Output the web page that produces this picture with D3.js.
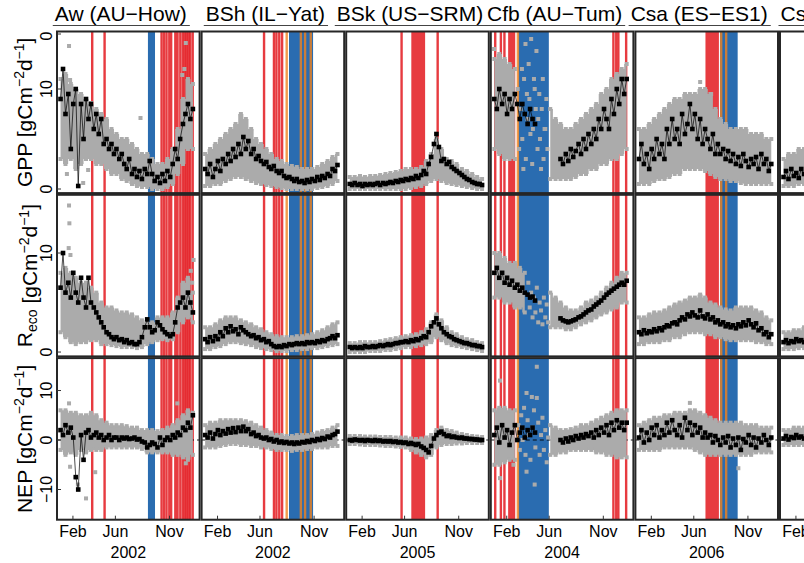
<!DOCTYPE html>
<html>
<head>
<meta charset="utf-8">
<script src="https://cdn.jsdelivr.net/npm/d3@7"></script>
<style>
  body { margin: 0; background: #fff; }
  svg { display: block; font-family: "Liberation Sans", Arial, Helvetica, sans-serif; }
</style>
</head>
<body>
<svg id="chart" width="804" height="563"></svg>
<script>
// one column per site, year shown under each column
var sites = ["Aw (AU\u2212How)", "BSh (IL\u2212Yat)", "BSk (US\u2212SRM)", "Cfb (AU\u2212Tum)", "Csa (ES\u2212ES1)", "Csb (IT\u2212Noe)"];
var years = ["2002", "2002", "2005", "2004", "2006", "2003"];

var monthTicks = [31, 151, 304];
var monthLabels = ["Feb", "Jun", "Nov"];

// day of year of the black (weekly) and gray (fortnightly) values
var weekDays = [-4, 3, 10, 18, 25, 32, 39, 46, 54, 61, 68, 75, 82, 90, 97, 104, 111, 118, 126, 133, 140, 147, 154, 162,
  169, 176, 183, 190, 198, 205, 212, 219, 226, 234, 241, 248, 255, 262, 270, 277, 284, 291, 298, 306, 313, 320,
  327, 334, 342, 349, 356, 363, 370];
var fortDays = [-4, 10, 25, 39, 54, 68, 82, 97, 111, 126, 140, 154, 169, 183, 198, 212, 226, 241, 255, 270, 284, 298,
  313, 327, 342, 356, 370];

// GPP
var gppBlack = [
  [9, 12, 7.5, 9.5, 4, 8.5, 10, 0.3, 8.5, 5, 9, 7, 8.5, 6, 7.5, 5.5, 7, 4.5, 5, 4, 4.5, 3.5, 4, 3, 3.5, 2.5, 2, 3, 1.5, 2, 1.2, 1.8, 1, 2, 1.5, 2.8, 1.5, 0.8, 1.2, 0.6, 1.5, 0.8, 1.8, 1.2, 2.5, 4, 3, 5, 6.5, 7.5, 8.5, 7, 8],
  [2, 1.5, 2.5, 1.2, 2, 2.8, 1.8, 3, 2.5, 3.5, 2.8, 4, 3.2, 4.5, 3.5, 5.2, 4, 4.8, 3.5, 4, 3, 3.3, 2.8, 2.5, 2.7, 2.2, 2, 2.3, 1.8, 1.6, 1.8, 1.3, 1.1, 1.2, 1, 0.8, 1, 0.7, 0.8, 0.6, 0.9, 0.7, 1, 0.8, 1.2, 0.9, 1.3, 1.1, 1.5, 1.3, 2, 1.8, 2.4],
  [0.5, 0.4, 0.6, 0.4, 0.5, 0.3, 0.5, 0.4, 0.5, 0.4, 0.5, 0.6, 0.4, 0.6, 0.5, 0.6, 0.7, 0.6, 0.8, 0.7, 0.9, 0.8, 1, 0.9, 1.1, 1, 1.3, 1.1, 1.4, 1.8, 1.5, 2.5, 3.2, 4.5, 5.5, 4.2, 2.8, 3, 2.5, 2.7, 2.2, 2, 1.8, 1.6, 1.4, 1.2, 1, 0.9, 0.7, 0.6, 0.5, 0.5, 0.4],
  [9, 8, 10, 8.5, 9.5, 7.5, 9, 8, 9.5, 8.5, 7, 8.5, 7.5, 6.5, 8, 7, 6.5, null, null, null, null, null, null, null, null, null, 3, 2.5, 3.5, 2.8, 4, 3.2, 3.8, 4.5, 3.5, 5, 4, 5.5, 4.5, 6, 5, 7, 6, 8, 7, 6, 9, 7.5, 10, 8.5, 11, 9.5, 11],
  [3, 4.5, 2.5, 3.5, 2, 4, 3, 5, 3.5, 4.5, 3, 6, 4.5, 7, 5, 6, 4.5, 7.5, 5.5, 6.5, 8.5, 6, 7.5, 5, 7, 4.5, 6, 5, 4, 5.5, 3.5, 4.5, 3.5, 4, 3, 3.8, 2.8, 3.5, 2.5, 3.2, 2.3, 3.5, 2.8, 2.2, 3, 2.5, 3.2, 2, 3.5, 2.5, 3, 1.8, 2.5],
  [1.2, 1.8, 1, 2, 1.3, 1.6, 1.1, 2, 1.5, 1.8]
];
var gppHi = [
  [11, 11.5, 10.5, 10, 9.5, 9, 8.5, 8, 7.5, 7, 6, 5.5, 5, 5, 4.5, 4, 3.5, 3.5, 3, 2.5, 2.5, 3, 4, 6, 9, 11, 10.5],
  [3.5, 4, 4.5, 5, 5.5, 6, 6.5, 7.5, 7, 6, 5, 4.5, 4, 3.5, 3, 2.8, 2.5, 2.3, 2.2, 2, 2, 2, 2.2, 2.5, 2.8, 3.2, 3.5],
  [1.2, 1.2, 1.3, 1.2, 1.3, 1.3, 1.4, 1.5, 1.6, 1.7, 1.8, 2, 2, 2, 2.2, 2.8, 3.5, 5, 4, 3, 2.8, 2.5, 2, 1.8, 1.5, 1.2, 1],
  [13, 13.5, 13, 12.5, 12, null, null, null, null, null, null, 8, 7, 6.5, 6, 6, 6.5, 7, 7.5, 8, 8.5, 9.5, 10, 11, 11.5, 12, 12.5],
  [6, 6, 6.5, 7, 7.5, 8, 8.5, 9, 9, 9.5, 9.5, 9.5, 10, 10, 9.5, 8, 7, 6.5, 6, 6, 6, 6, 5.5, 5.5, 5.5, 5, 5],
  [3, 3.5, 3.5, 4, 4]
];
var gppLo = [
  [3, 2.5, 3, 2, 2.5, 3, 3, 2.5, 2.5, 2, 1.5, 1.5, 1, 0.8, 0.5, 0.3, 0.2, 0.2, 0, 0, 0, 0.2, 0.5, 1.5, 2.5, 4, 4],
  [0.3, 0.3, 0.5, 0.5, 0.8, 1, 1.2, 1.2, 1, 0.8, 0.6, 0.5, 0.4, 0.3, 0.2, 0.1, 0, 0, 0, 0, 0, 0, 0.1, 0.2, 0.3, 0.5, 0.8],
  [0, 0, 0, 0, 0, 0, 0, 0, 0, 0, 0, 0, 0.1, 0.2, 0.3, 0.5, 0.8, 1, 0.8, 0.6, 0.5, 0.4, 0.3, 0.2, 0.1, 0, 0],
  [4, 3.5, 3, 3, 3, null, null, null, null, null, null, 1, 1, 1, 1, 1, 1.2, 1.5, 1.5, 2, 2, 2.5, 2.5, 3, 3, 3.5, 4],
  [0.5, 0.5, 0.5, 0.8, 1, 1, 1.2, 1.5, 1.5, 2, 2, 2, 2, 1.8, 1.5, 1.2, 1, 1, 0.8, 0.8, 0.6, 0.5, 0.5, 0.5, 0.5, 0.5, 0.5],
  [0.3, 0.3, 0.3, 0.5, 0.5]
];
var gppOut = [
  [[20, 14.3], [23, 10.9], [82, 8.6], [222, 7.1], [350, 14.6], [364, 8.5], [340, 11.4], [346, 12], [14, 1.5], [74, 1.9], [60, 0.6]],
  [], [],
  [[-5, 14], [5, 12.5], [62, 10], [66, 4], [70, 8], [74, 12], [75, 5], [78, 2], [80, 11], [84, 14.5], [85, 3], [88, 9.5],
   [90, 7], [93, 12.5], [95, 9], [98, 5.5], [100, 15], [103, 2.5], [105, 6], [108, 11], [110, 10], [113, 8], [115, 13.8],
   [118, 4], [120, 7], [123, 9.5], [125, 5], [128, 2], [130, 8], [133, 11], [135, 3], [138, 6], [140, 6], [143, 9], [146, 4]],
  [[169, 10.7], [200, 9.5]],
  []
];

// Reco
var recoBlack = [
  [6.5, 10, 6, 7, 5.5, 8, 6, 5, 7.5, 5.5, 4.5, 7.5, 5, 4.5, 4, 3.5, 3, 2.5, 2, 1.8, 1.5, 1.3, 1.5, 1.2, 1.3, 1, 1.2, 0.9, 1, 0.8, 0.8, 1, 1.5, 2.5, 3.3, 2.5, 2, 2.2, 3, 2.7, 2.3, 2, 1.8, 1.6, 1.8, 3, 4.5, 5, 5.5, 4.5, 6, 5, 4],
  [1.3, 1, 1.5, 1.1, 1.6, 1.3, 2, 1.6, 2.4, 2, 2.6, 2.1, 2.3, 1.8, 2.5, 2.2, 2, 1.8, 1.6, 1.7, 1.4, 1.5, 1.2, 1.3, 1, 1.1, 0.8, 0.6, 0.5, 0.6, 0.5, 0.7, 0.6, 0.8, 0.7, 0.8, 0.9, 0.8, 0.9, 0.8, 1, 0.9, 1, 0.9, 1.1, 1, 1.2, 1.1, 1.3, 1.4, 1.6, 1.4, 1.7],
  [0.5, 0.4, 0.5, 0.4, 0.5, 0.4, 0.6, 0.5, 0.5, 0.6, 0.5, 0.6, 0.7, 0.6, 0.7, 0.8, 0.7, 0.8, 0.9, 0.9, 1, 1, 1.1, 1, 1.2, 1.1, 1.3, 1.2, 1.4, 1.6, 1.5, 2, 2.6, 3, 3.4, 2.8, 2.4, 2, 1.8, 1.6, 1.5, 1.3, 1.2, 1.1, 1, 0.9, 0.9, 0.8, 0.7, 0.7, 0.6, 0.6, 0.5],
  [8, 8.5, 7.5, 8, 7, 7.5, 6.8, 7.2, 6.5, 6.8, 6.2, 6.5, 6, 5.8, 5.5, 5.6, 5.2, null, null, null, null, null, null, null, null, null, 3.4, 3.2, 3.1, 3, 3.1, 3.2, 3.3, 3.5, 3.6, 3.8, 4, 4.2, 4.3, 4.6, 4.8, 5, 5.2, 5.5, 5.8, 6, 6.2, 6.4, 6.6, 6.8, 7, 6.8, 7.2],
  [2, 1.8, 2.2, 1.9, 2.1, 2, 2.3, 2.1, 2.4, 2.2, 2.5, 2.7, 2.6, 2.9, 3, 2.8, 3.2, 3.5, 3.3, 3.8, 3.6, 4, 3.7, 3.5, 4.2, 3.6, 3.4, 3.8, 3.3, 3.5, 3, 3.2, 2.8, 3, 2.6, 2.8, 2.5, 2.7, 2.4, 2.8, 2.6, 3, 2.7, 3.2, 2.8, 2.5, 2.9, 2.2, 2.4, 1.8, 2, 1.5, 1.8],
  [1, 1.2, 0.9, 1.1, 1, 1.3, 1.1, 1.2, 1, 1.3]
];
var recoHi = [
  [8, 8.5, 8, 7.5, 7, 7, 6.5, 6, 5, 4.5, 4.5, 4.2, 4, 4, 3.8, 3.5, 3.2, 3, 3, 3.5, 3.5, 3.5, 4, 5.5, 7, 7.5, 6],
  [2.5, 2.5, 2.8, 3.2, 3.5, 3.5, 3.5, 3.2, 3, 2.8, 2.5, 2.3, 2, 1.8, 1.6, 1.5, 1.5, 1.5, 1.6, 1.6, 1.7, 1.8, 2, 2.2, 2.5, 2.8, 3],
  [0.9, 0.9, 1, 1, 1, 1, 1.1, 1.2, 1.3, 1.4, 1.5, 1.6, 1.7, 1.8, 2, 2.3, 3, 3.8, 3.2, 2.5, 2, 1.8, 1.5, 1.3, 1.2, 1, 0.9],
  [10, 10, 9.5, 9, 9, 8.5, 8, null, null, null, null, 6, 5.5, 5, 4.5, 4.2, 4.2, 4.5, 5, 5.2, 5.5, 6, 6.5, 7, 7.5, 8, 8],
  [3.5, 3.5, 3.8, 4, 4, 4.2, 4.5, 4.8, 5, 5.2, 5.5, 5.5, 5.8, 5.5, 5, 4.8, 4.5, 4.3, 4.2, 4.5, 4.5, 4.5, 4.5, 4.2, 4, 3.5, 3.2],
  [2, 2, 2.2, 2.2, 2.5]
];
var recoLo = [
  [2, 1.5, 1, 0.8, 1, 1, 1.2, 1.2, 0.8, 0.8, 0.7, 0.6, 0.5, 0.5, 0.5, 0.4, 0.5, 0.8, 1, 1.2, 1.3, 1.2, 1.3, 2, 3, 3.5, 3],
  [0.3, 0.3, 0.5, 0.6, 0.8, 1, 1, 0.9, 0.8, 0.7, 0.5, 0.4, 0.3, 0.2, 0.1, 0.1, 0.1, 0.2, 0.2, 0.3, 0.3, 0.4, 0.4, 0.5, 0.6, 0.7, 0.8],
  [0, 0, 0, 0, 0.1, 0.1, 0.1, 0.2, 0.2, 0.3, 0.4, 0.5, 0.5, 0.6, 0.7, 0.8, 1, 1.5, 1.2, 0.9, 0.7, 0.6, 0.5, 0.4, 0.3, 0.2, 0.1],
  [5.5, 5.5, 5, 5, 4.5, 4.5, 4, null, null, null, null, 2.5, 2.5, 2.5, 2.3, 2.3, 2.5, 2.8, 3, 3.2, 3.5, 3.8, 4, 4.3, 4.5, 5, 5],
  [0.8, 0.8, 1, 1, 1, 1.2, 1.2, 1.5, 1.5, 1.8, 2, 2, 2, 1.8, 1.8, 1.5, 1.5, 1.3, 1.2, 1.2, 1.2, 1.2, 1.2, 1, 1, 0.8, 0.8],
  [0.3, 0.3, 0.3, 0.4, 0.4]
];
var recoOut = [
  [[20, 14.8], [21, 13], [19, 10.5], [24, 9.8], [372, 9.3], [364, 8.2], [368, 7]],
  [], [],
  [[92, 7], [96, 4.5], [100, 6], [104, 3.5], [108, 5.5], [112, 4], [116, 6.5], [120, 3], [124, 5], [128, 4.2], [132, 2.8],
   [136, 5.5], [140, 3.5], [144, 4.8], [148, 3]],
  [], []
];

// NEP
var nepBlack = [
  [2, 1, 3, 1.5, 2.5, 0.5, -7.5, -10, 1, -4, 1.5, 2, 0.5, 1, 1.5, 0.5, 1, 0, 0.5, 1, 0, 0.5, 0.5, 0, 0.5, 0.3, 0.5, 0.2, 0.3, 0.5, 0.1, 0.2, -0.3, -0.5, -1.5, -1, -0.5, -0.8, -1.5, 0.5, -1, 0, 0.5, 0, 1, 0.5, 1.5, 1, 2.5, 2, 3.5, 2.5, 5],
  [1, 0.5, 1.5, 0.3, 1.2, 2, 1, 1.8, 1.3, 2.2, 1.5, 2.4, 1.6, 2.5, 1.8, 2.7, 1.8, 2.2, 1.2, 1.5, 0.8, 1, 0.5, 0.3, 0.5, 0, 0.2, -0.3, 0, -0.5, -0.3, -0.6, -0.4, -0.7, -0.5, -0.8, -0.5, -0.7, -0.4, -0.5, -0.2, -0.4, 0, -0.2, 0.2, 0, 0.4, 0.2, 0.7, 0.5, 1, 1.2, 1.7],
  [0, -0.1, 0.1, 0, -0.1, 0, -0.2, 0, -0.1, -0.2, 0, -0.2, -0.1, -0.3, -0.2, -0.3, -0.2, -0.4, -0.3, -0.5, -0.4, -0.6, -0.5, -0.8, -0.6, -0.8, -1, -0.8, -1.3, -1.6, -2, -2.5, -1.2, 0.3, 1, 1.5, 1.7, 1.2, 0.8, 0.9, 0.6, 0.7, 0.5, 0.4, 0.5, 0.3, 0.3, 0.2, 0.2, 0.1, 0.1, 0, 0],
  [1, 2.5, -0.5, 3, 0.5, 2, -1, 1.5, 3, 0, 1.5, 2.5, 0.5, 2, 1, 2.5, 1.5, null, null, null, null, null, null, null, null, null, 0, -0.5, 0.3, -0.3, 0.5, 0, 0.8, 0.3, 1, 0.5, 1.2, 0.8, 1.5, 0.5, 2, 1, 2.5, 1.5, 3, 1, 3.5, 2, 4, 2.5, 3.5, 2, 3.5],
  [0.5, 2, -0.5, 1.5, 0, 2.5, 1, 3, 0.5, 2, 1, 3.5, 1.5, 4, 2, 1, 3, 0.5, 4.5, 2, 3.5, 1, 3, 1.5, 2.5, 0.5, 1.5, 0.5, 1, -0.5, 0.8, 0, -1, 0.5, -0.5, 0.8, -1.5, 0.3, -1, 0.5, -2, 0.2, -0.5, 1, -1, 0.5, -1.5, 0.3, -0.5, 1, 0, -1, 0.5],
  [0.3, 0.8, 0.1, 0.6, 0.4, 1, 0.5, 0.7, 0.3, 0.8]
];
var nepHi = [
  [6, 6, 5.5, 5.5, 5, 5, 5.5, 5, 4, 3.5, 3, 3, 3, 2.8, 2.5, 2.5, 2, 2, 2, 1.8, 2, 2.5, 3, 4, 5, 6, 5.5],
  [3, 3.5, 3.5, 4, 4, 4, 4, 4, 3.8, 3.5, 3, 2.5, 2, 1.5, 1, 1, 0.8, 0.8, 1, 1, 1, 1.2, 1.5, 1.8, 2, 2.5, 3],
  [0.8, 0.8, 0.8, 0.7, 0.7, 0.7, 0.6, 0.6, 0.6, 0.5, 0.5, 0.5, 0.3, 0.2, 0.3, 0.5, 1, 2, 2.5, 2, 1.8, 1.5, 1.2, 1, 0.8, 0.7, 0.6],
  [6, 6.5, 6.5, 6, 6, null, null, null, null, null, null, 3, 2.5, 2, 2, 2.2, 2.5, 3, 3, 3.5, 4, 4.5, 5, 5.5, 6, 6, 6],
  [3, 3.5, 4, 4.5, 4.5, 5, 5, 5.5, 5.5, 5.5, 6, 6, 5.5, 5, 4.5, 4, 3.5, 3.5, 3.5, 3.5, 3.5, 3, 3, 3, 2.5, 2.5, 2.5],
  [2, 2, 2.5, 2.5, 2.5]
];
var nepLo = [
  [-2, -3, -2.5, -3, -2, -2.5, -2, -2, -2, -1.5, -1.5, -1.5, -1.5, -1.5, -1.5, -1.5, -1.8, -2.5, -2.5, -2.5, -2.5, -2.5, -3, -3, -3.5, -4, -3],
  [-1.5, -1.5, -1.5, -1.2, -1, -0.8, -0.8, -1, -1, -1.2, -1.2, -1.5, -1.5, -1.8, -2, -2, -2, -2.2, -2, -2, -1.8, -1.8, -1.5, -1.5, -1.5, -1.2, -1.2],
  [-0.8, -0.8, -0.9, -1, -1, -1, -1.1, -1.2, -1.2, -1.3, -1.4, -1.5, -2, -2.5, -3, -3.5, -3, -1.5, -1, -0.8, -0.8, -0.7, -0.7, -0.6, -0.6, -0.6, -0.6],
  [-5, -5, -4.5, -4, -4, null, null, null, null, null, null, -3, -3, -2.5, -2.5, -2, -2, -2, -2, -2, -2.5, -2.5, -3, -3, -3.5, -3.5, -3.5],
  [-2, -2, -2, -2, -2, -1.5, -1.5, -1.5, -1.5, -1.5, -1.5, -2, -2.5, -3, -3, -3, -3, -3, -3, -3, -3, -3, -3, -2.5, -2.5, -2.5, -2.5],
  [-1, -1, -1, -1, -1]
];
var nepOut = [
  [[20, 7.4], [68, -11.8], [94, -6.5], [23, -5.4], [326, 7.4], [350, -4.7], [45, -9]],
  [], [],
  [[12, 12], [87, 9.5], [116, 8.5], [12, -7.7], [87, -6.4], [50, -5], [102, 8.7], [116, 14.8], [110, -9],
   [64, 3], [68, -2], [72, 5], [76, 0], [80, 6.5], [84, -3], [90, 4], [94, 1], [98, -4], [104, 2.5], [108, 6], [112, -1.5],
   [120, 3.5], [124, -3], [128, 1], [132, 4.5], [136, -2], [140, 2], [144, -4.5], [148, 0.5]],
  [[277, -5.7], [140, 7.5]],
  []
];

// y-axis ticks (only on the first column)
var gppTicks = [0, 10, 15.5];
var gppTickLabels = ["0", "10", "0"];
var recoTicks = [0, 10];
var recoTickLabels = ["0", "10"];
var nepTicks = [-10, 0, 10];
var nepTickLabels = ["\u221210", "0", "10"];

// event periods, [first day, last day]
var redEvents = [
  [[85, 85], [120, 120], [281, 281], [288, 288], [295, 295], [300, 311], [317, 329], [334, 334], [341, 341], [347, 347], [352, 352], [357, 357], [362, 362], [369, 369]],
  [[162, 162], [190, 190], [197, 197], [205, 205], [213, 213]],
  [[142, 142], [170, 208], [244, 244]],
  [[-2, -2], [14, 14], [24, 24], [35, 54], [332, 332], [340, 340], [346, 346], [368, 368]],
  [[184, 221]],
  []
];
var blueEvents = [
  [[243, 262]],
  [[233, 300]],
  [],
  [[64, 149]],
  [[225, 274]],
  []
];
var orangeEvents = [
  [],
  [[226, 226], [266, 266], [278, 278], [294, 294]],
  [],
  [[61, 63]],
  [[228, 228], [242, 242]],
  []
];

var svg = d3.select('#chart');
var colW = 142.6, colStep = 144.6, colX0 = 57;
var rowH = 161.6, rowStep = 163.3, rowY0 = 31.5;
var dayDomain = [-14, 389];

var rows = [
  { domain: [-0.41, 15.75], black: gppBlack, hi: gppHi, lo: gppLo, out: gppOut, ticks: gppTicks, tickLabels: gppTickLabels, title: 'gpp' },
  { domain: [-0.44, 15.88], black: recoBlack, hi: recoHi, lo: recoLo, out: recoOut, ticks: recoTicks, tickLabels: recoTickLabels, title: 'reco' },
  { domain: [-16.1, 16.55], black: nepBlack, hi: nepHi, lo: nepLo, out: nepOut, ticks: nepTicks, tickLabels: nepTickLabels, title: 'nep' }
];

svg.append('rect').attr('width', 804).attr('height', 563).attr('fill', '#fff');
var defs = svg.append('defs');

sites.forEach(function (site, i) {
  var left = colX0 + i * colStep;
  var x = d3.scaleLinear().domain(dayDomain).range([left, left + colW]);

  rows.forEach(function (row, r) {
    var top = rowY0 + r * rowStep;
    var y = d3.scaleLinear().domain(row.domain).range([top + rowH, top]);
    var clipId = 'clip' + i + '_' + r;
    defs.append('clipPath').attr('id', clipId)
      .append('rect').attr('x', left).attr('y', top).attr('width', colW).attr('height', rowH);
    var g = svg.append('g').attr('clip-path', 'url(#' + clipId + ')');

    // vertical event bands
    function bands(list, color, op) {
      g.selectAll(null).data(list).enter().append('rect')
        .attr('x', function (d) {
          var a = x(d[0]), b = x(d[1] + 1), w = Math.max(b - a, 2.4);
          return (a + b) / 2 - w / 2;
        })
        .attr('width', function (d) { return Math.max(x(d[1] + 1) - x(d[0]), 2.4); })
        .attr('y', top).attr('height', rowH)
        .attr('fill', color).attr('opacity', op);
    }
    bands(blueEvents[i], '#2a6cb0', 1);
    bands(redEvents[i], '#e3191f', 0.85);
    bands(orangeEvents[i], '#f0821e', 0.8);

    // dashed zero line (NEP)
    if (row.title === 'nep') {
      g.append('line')
        .attr('x1', left).attr('x2', left + colW)
        .attr('y1', y(0)).attr('y2', y(0))
        .attr('stroke', '#000').attr('stroke-width', 0.9).attr('stroke-dasharray', '4,3');
    }

    // gray cloud
    var hi = row.hi[i], lo = row.lo[i];
    var gray = hi.map(function (h, k) { return { day: fortDays[k], hi: h, lo: lo[k] }; });
    g.append('path').datum(gray)
      .attr('fill', '#ababab')
      .attr('d', d3.area()
        .defined(function (d) { return d.hi !== null; })
        .curve(d3.curveStep)
        .x(function (d) { return x(d.day); })
        .y0(function (d) { return y(d.lo); })
        .y1(function (d) { return y(d.hi); }));

    var edgePts = [];
    gray.forEach(function (d) {
      if (d.hi !== null) { edgePts.push([d.day, d.hi]); edgePts.push([d.day, d.lo]); }
    });
    edgePts = edgePts.concat(row.out[i]);
    g.selectAll(null).data(edgePts).enter().append('rect')
      .attr('x', function (d) { return x(d[0]) - 2; })
      .attr('y', function (d) { return y(d[1]) - 2; })
      .attr('width', 4).attr('height', 4)
      .attr('fill', '#ababab');

    // black series
    var black = row.black[i].map(function (v, k) { return { day: weekDays[k], v: v }; });
    g.append('path').datum(black)
      .attr('fill', 'none').attr('stroke', '#000').attr('stroke-width', 0.7)
      .attr('d', d3.line()
        .defined(function (d) { return d.v !== null; })
        .x(function (d) { return x(d.day); })
        .y(function (d) { return y(d.v); }));
    g.selectAll(null).data(black.filter(function (d) { return d.v !== null; })).enter().append('rect')
      .attr('x', function (d) { return x(d.day) - 2.3; })
      .attr('y', function (d) { return y(d.v) - 2.3; })
      .attr('width', 4.6).attr('height', 4.6)
      .attr('fill', '#000');

    // frame
    svg.append('rect')
      .attr('x', left).attr('y', top).attr('width', colW).attr('height', rowH)
      .attr('fill', 'none').attr('stroke', '#262626').attr('stroke-width', 2);

    // y axis on first column
    if (i === 0) {
      row.ticks.forEach(function (t, k) {
        svg.append('line')
          .attr('x1', left).attr('x2', left + 4)
          .attr('y1', y(t)).attr('y2', y(t))
          .attr('stroke', '#333').attr('stroke-width', 1);
        svg.append('text')
          .attr('transform', 'translate(52,' + (t > row.domain[1] - 0.5 ? y(t) + 2 : y(t)) + ') rotate(-90)')
          .attr('text-anchor', 'middle')
          .attr('font-size', 16)
          .text(row.tickLabels[k]);
      });
    }

    // x axis on bottom row
    if (r === rows.length - 1) {
      monthTicks.forEach(function (m, k) {
        svg.append('line')
          .attr('x1', x(m)).attr('x2', x(m))
          .attr('y1', top + rowH).attr('y2', top + rowH - 4)
          .attr('stroke', '#333').attr('stroke-width', 1);
        svg.append('text')
          .attr('x', x(m)).attr('y', 537)
          .attr('text-anchor', 'middle').attr('font-size', 16)
          .text(monthLabels[k]);
      });
      svg.append('text')
        .attr('x', left + colW / 2).attr('y', 558)
        .attr('text-anchor', 'middle').attr('font-size', 16)
        .text(years[i]);
    }
  });

  // site title with underline
  var title = svg.append('text')
    .attr('x', left + colW / 2 - 7.5).attr('y', 21)
    .attr('text-anchor', 'middle').attr('font-size', 21)
    .text(site);
  var bb = title.node().getBBox();
  svg.append('line')
    .attr('x1', bb.x - 2).attr('x2', bb.x + bb.width + 3)
    .attr('y1', 25.5).attr('y2', 25.5)
    .attr('stroke', '#444').attr('stroke-width', 1);
});

// y-axis titles
function unitLabel(t) {
  t.append('tspan').text(' [gCm');
  t.append('tspan').attr('dy', -8).attr('font-size', 14).text('\u22122');
  t.append('tspan').attr('dy', 8).text('d');
  t.append('tspan').attr('dy', -8).attr('font-size', 14).text('\u22121');
  t.append('tspan').attr('dy', 8).text(']');
}
rows.forEach(function (row, r) {
  var cy = rowY0 + r * rowStep + rowH / 2;
  var t = svg.append('text')
    .attr('transform', 'translate(32,' + cy + ') rotate(-90)')
    .attr('text-anchor', 'middle').attr('font-size', 21);
  if (row.title === 'gpp') {
    t.append('tspan').text('GPP');
  } else if (row.title === 'reco') {
    t.append('tspan').text('R');
    t.append('tspan').attr('dy', 5).attr('font-size', 14).text('eco');
    t.append('tspan').attr('dy', -5).text('');
  } else {
    t.append('tspan').text('NEP');
  }
  unitLabel(t);
});
</script>
</body>
</html>
